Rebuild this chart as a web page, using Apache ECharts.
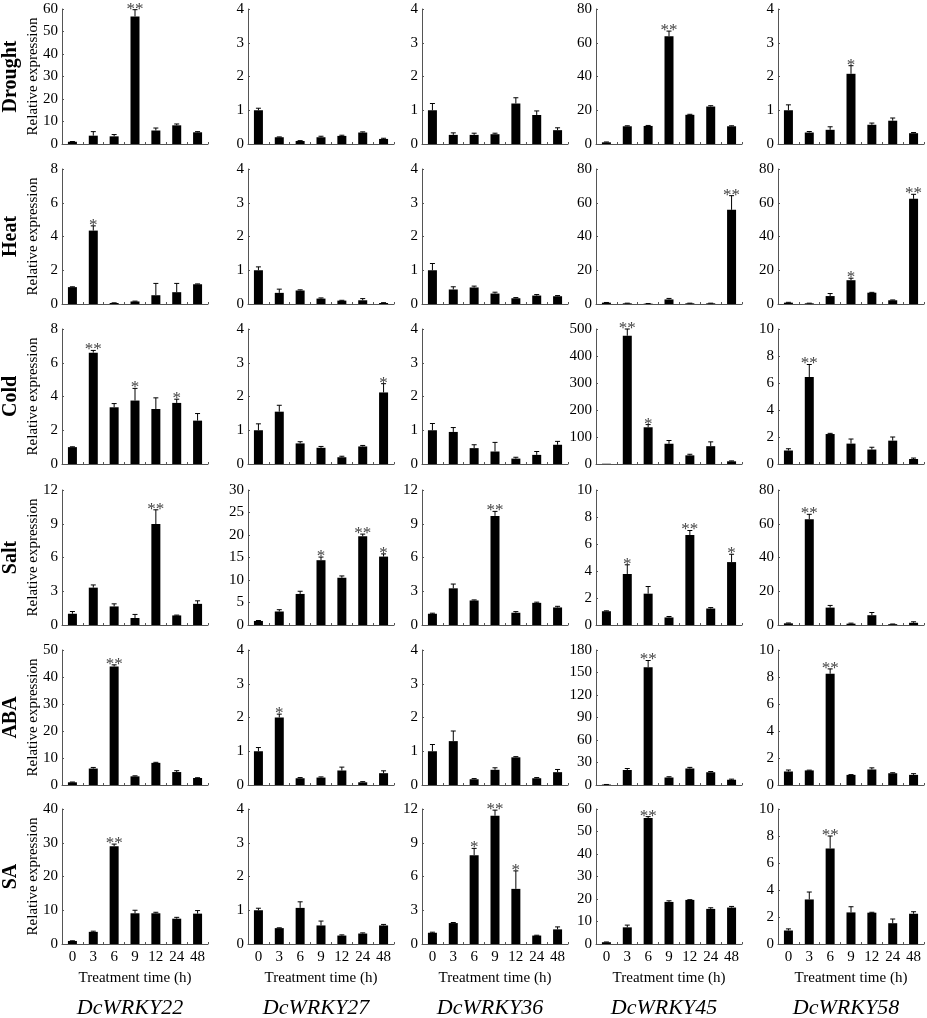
<!DOCTYPE html>
<html><head><meta charset="utf-8">
<script src="https://cdn.jsdelivr.net/npm/echarts@6/dist/echarts.min.js"></script>
<style>html,body{margin:0;padding:0;background:#fff}#c{width:927px;height:1018px}</style>
</head><body><div id="c"></div>
<script>
const times = ['0','3','6','9','12','24','48'];
const genes = ['DcWRKY22','DcWRKY27','DcWRKY36','DcWRKY45','DcWRKY58'];
const treatments = ['Drought','Heat','Cold','Salt','ABA','SA'];

// Drought
const droughtMax = [60, 4, 4, 80, 4];
const droughtStep = [10, 1, 1, 20, 1];
const droughtMean = [
  [1.0, 3.7, 3.4, 56.7, 6.0, 8.3, 5.2],
  [1.0, 0.2, 0.09, 0.2, 0.24, 0.34, 0.15],
  [1.0, 0.27, 0.27, 0.29, 1.2, 0.86, 0.41],
  [1.0, 10.5, 10.7, 63.9, 17.3, 22.2, 10.5],
  [1.0, 0.34, 0.42, 2.08, 0.57, 0.69, 0.32]];
const droughtErr = [
  [0.1, 1.8, 0.8, 3.0, 1.1, 0.6, 0.3],
  [0.06, 0.01, 0.01, 0.03, 0.02, 0.02, 0.02],
  [0.2, 0.06, 0.05, 0.03, 0.17, 0.12, 0.07],
  [0.2, 0.3, 0.3, 3.0, 0.3, 0.5, 0.3],
  [0.16, 0.03, 0.09, 0.24, 0.05, 0.08, 0.02]];
const droughtSig = [[0,0,0,2,0,0,0],[0,0,0,0,0,0,0],[0,0,0,0,0,0,0],[0,0,0,2,0,0,0],[0,0,0,1,0,0,0]];

// Heat
const heatMax = [8, 4, 4, 80, 80];
const heatStep = [2, 1, 1, 20, 20];
const heatMean = [
  [1.0, 4.35, 0.06, 0.15, 0.52, 0.7, 1.17],
  [1.0, 0.33, 0.4, 0.16, 0.1, 0.11, 0.03],
  [1.0, 0.43, 0.49, 0.31, 0.17, 0.25, 0.23],
  [0.8, 0.4, 0.2, 2.7, 0.4, 0.4, 55.8],
  [0.8, 0.4, 4.7, 14.1, 6.7, 2.2, 62.3]];
const heatErr = [
  [0.02, 0.28, 0.01, 0.02, 0.7, 0.52, 0.02],
  [0.1, 0.11, 0.02, 0.02, 0.01, 0.05, 0.01],
  [0.2, 0.08, 0.04, 0.04, 0.02, 0.03, 0.02],
  [0.1, 0.1, 0.1, 0.6, 0.1, 0.1, 8.4],
  [0.2, 0.1, 1.5, 1.2, 0.2, 0.2, 2.7]];
const heatSig = [[0,1,0,0,0,0,0],[0,0,0,0,0,0,0],[0,0,0,0,0,0,0],[0,0,0,0,0,0,2],[0,0,0,1,0,0,2]];

// Cold
const coldMax = [8, 4, 4, 500, 10];
const coldStep = [2, 1, 1, 100, 2];
const coldMean = [
  [1.0, 6.6, 3.36, 3.76, 3.26, 3.62, 2.57],
  [1.0, 1.55, 0.61, 0.48, 0.2, 0.52, 2.12],
  [1.0, 0.95, 0.47, 0.37, 0.16, 0.27, 0.57],
  [1.0, 475, 136, 75, 32, 66, 10],
  [1.0, 6.44, 2.22, 1.51, 1.07, 1.73, 0.37]];
const coldErr = [
  [0.02, 0.13, 0.22, 0.72, 0.66, 0.22, 0.42],
  [0.19, 0.19, 0.05, 0.04, 0.03, 0.03, 0.26],
  [0.2, 0.13, 0.1, 0.27, 0.04, 0.1, 0.1],
  [0, 25, 10, 12, 4, 16, 1.5],
  [0.13, 0.93, 0.05, 0.34, 0.17, 0.27, 0.07]];
const coldSig = [[0,2,0,1,0,1,0],[0,0,0,0,0,0,1],[0,0,0,0,0,0,0],[0,2,1,0,0,0,0],[0,2,0,0,0,0,0]];

// Salt
const saltMax = [12, 30, 12, 10, 80];
const saltStep = [3, 5, 3, 2, 20];
const saltMean = [
  [1.0, 3.32, 1.65, 0.62, 8.97, 0.85, 1.88],
  [0.9, 3.0, 6.9, 14.4, 10.5, 19.7, 15.2],
  [1.0, 3.26, 2.18, 9.7, 1.09, 1.97, 1.56],
  [1.02, 3.78, 2.32, 0.56, 6.66, 1.22, 4.66],
  [1.0, 62.7, 10.3, 0.8, 5.8, 0.5, 1.3]];
const saltErr = [
  [0.2, 0.24, 0.23, 0.32, 1.27, 0.03, 0.27],
  [0.1, 0.4, 0.6, 0.7, 0.4, 0.5, 0.6],
  [0.05, 0.38, 0.05, 0.4, 0.1, 0.06, 0.1],
  [0.03, 0.68, 0.53, 0.07, 0.34, 0.07, 0.58],
  [0.2, 2.9, 1.3, 0.3, 1.6, 0.1, 0.6]];
const saltSig = [[0,0,0,0,2,0,0],[0,0,0,1,0,2,1],[0,0,0,2,0,0,0],[0,1,0,0,2,0,1],[0,2,0,0,0,0,0]];

// ABA
const abaMax = [50, 4, 4, 180, 10];
const abaStep = [10, 1, 1, 30, 2];
const abaMean = [
  [1.0, 6.1, 43.9, 3.2, 8.2, 4.8, 2.6],
  [1.0, 2.0, 0.2, 0.22, 0.43, 0.08, 0.35],
  [1.0, 1.3, 0.17, 0.45, 0.82, 0.2, 0.38],
  [0.6, 20, 157, 10, 22, 17, 7],
  [1.0, 1.08, 8.24, 0.75, 1.15, 0.87, 0.75]];
const abaErr = [
  [0.1, 0.4, 0.6, 0.2, 0.2, 0.5, 0.1],
  [0.11, 0.1, 0.02, 0.02, 0.1, 0.02, 0.07],
  [0.2, 0.3, 0.02, 0.06, 0.02, 0.02, 0.08],
  [0.1, 2, 9, 1, 1.5, 1, 0.8],
  [0.11, 0.02, 0.36, 0.02, 0.12, 0.04, 0.09]];
const abaSig = [[0,0,2,0,0,0,0],[0,1,0,0,0,0,0],[0,0,0,0,0,0,0],[0,0,2,0,0,0,0],[0,0,2,0,0,0,0]];

// SA
const saMax = [40, 4, 12, 60, 10];
const saStep = [10, 1, 3, 10, 2];
const saMean = [
  [0.9, 3.6, 29.0, 9.1, 9.1, 7.5, 9.0],
  [1.0, 0.47, 1.07, 0.55, 0.25, 0.31, 0.55],
  [1.0, 1.86, 7.9, 11.4, 4.9, 0.75, 1.3],
  [0.8, 7.4, 56.0, 18.7, 19.6, 15.6, 16.2],
  [1.0, 3.3, 7.07, 2.34, 2.32, 1.54, 2.24]];
const saErr = [
  [0.05, 0.2, 0.6, 0.9, 0.3, 0.4, 0.9],
  [0.06, 0.01, 0.18, 0.13, 0.02, 0.02, 0.03],
  [0.05, 0.05, 0.6, 0.5, 1.6, 0.03, 0.22],
  [0.1, 1.0, 0.6, 0.5, 0.1, 0.5, 0.5],
  [0.12, 0.55, 0.93, 0.42, 0.03, 0.31, 0.15]];
const saSig = [[0,0,2,0,0,0,0],[0,0,0,0,0,0,0],[0,0,1,2,1,0,0],[0,0,2,0,0,0,0],[0,0,2,0,0,0,0]];

const rows = [
  {mean: droughtMean, err: droughtErr, sig: droughtSig, max: droughtMax, step: droughtStep},
  {mean: heatMean, err: heatErr, sig: heatSig, max: heatMax, step: heatStep},
  {mean: coldMean, err: coldErr, sig: coldSig, max: coldMax, step: coldStep},
  {mean: saltMean, err: saltErr, sig: saltSig, max: saltMax, step: saltStep},
  {mean: abaMean, err: abaErr, sig: abaSig, max: abaMax, step: abaStep},
  {mean: saMean, err: saErr, sig: saSig, max: saMax, step: saStep}
];

const FONT = '"Liberation Serif","Times New Roman",serif';
const colLeft = [62, 248, 422, 596, 778];
const colWidth = 146;
const rowTop = [9, 169, 329, 490, 650, 809];
const rowHeight = 135;
const axisColor = '#555';

const grid = [], xAxis = [], yAxis = [], series = [], graphic = [];

rows.forEach((row, r) => {
  genes.forEach((g, c) => {
    const idx = r * 5 + c;
    const isBottom = r === rows.length - 1;
    grid.push({left: colLeft[c], top: rowTop[r], width: colWidth, height: rowHeight});
    xAxis.push({
      type: 'category', gridIndex: idx, data: times,
      axisLine: {lineStyle: {color: axisColor, width: 1}},
      axisTick: {show: true, inside: true, length: 2, lineStyle: {color: axisColor}},
      axisLabel: {show: isBottom, color: '#000', fontFamily: FONT, fontSize: 15, margin: 6}
    });
    yAxis.push({
      type: 'value', gridIndex: idx, min: 0, max: row.max[c], interval: row.step[c],
      splitLine: {show: false},
      axisLine: {show: true, lineStyle: {color: axisColor, width: 1}},
      axisTick: {show: true, inside: true, length: 2, lineStyle: {color: axisColor}},
      axisLabel: {color: '#000', fontFamily: FONT, fontSize: 15, margin: 4}
    });
    series.push({
      type: 'bar', xAxisIndex: idx, yAxisIndex: idx, data: row.mean[c],
      barWidth: 9, itemStyle: {color: '#000'}, silent: true, animation: false
    });
    const sig = row.sig[c];
    series.push({
      type: 'custom', xAxisIndex: idx, yAxisIndex: idx, silent: true, animation: false, z: 3,
      data: row.mean[c].map((m, i) => [i, m, row.err[c][i]]),
      encode: {x: 0, y: 1},
      renderItem: function (params, api) {
        const x = api.value(0), m = api.value(1), e = api.value(2);
        const base = api.coord([x, m]);
        const top = api.coord([x, m + e]);
        const children = [];
        if (e > 0) {
          children.push({type: 'line', shape: {x1: base[0], y1: base[1], x2: top[0], y2: top[1]}, style: {stroke: '#000', lineWidth: 1}});
          children.push({type: 'line', shape: {x1: top[0] - 2.5, y1: top[1], x2: top[0] + 2.5, y2: top[1]}, style: {stroke: '#000', lineWidth: 1}});
        }
        const n = sig[params.dataIndex];
        if (n > 0) {
          children.push({type: 'text', x: top[0], y: top[1] + 8, style: {text: '*'.repeat(n), fill: '#444', font: '17px ' + FONT, textAlign: 'center', textVerticalAlign: 'bottom'}});
        }
        return {type: 'group', children: children};
      }
    });
  });
  const cy = rowTop[r] + rowHeight / 2;
  graphic.push({type: 'text', x: 11, y: cy, rotation: Math.PI / 2,
    style: {text: treatments[r], font: 'bold 20px ' + FONT, fill: '#000', textAlign: 'center', textVerticalAlign: 'middle'}});
  graphic.push({type: 'text', x: 33, y: cy, rotation: Math.PI / 2,
    style: {text: 'Relative expression', font: '15px ' + FONT, fill: '#000', textAlign: 'center', textVerticalAlign: 'middle'}});
});

genes.forEach((g, c) => {
  const cx = colLeft[c] + colWidth / 2;
  graphic.push({type: 'text', x: cx, y: 978,
    style: {text: 'Treatment time (h)', font: '15px ' + FONT, fill: '#000', textAlign: 'center', textVerticalAlign: 'middle'}});
  graphic.push({type: 'text', x: cx - 5, y: 1008,
    style: {text: g, font: 'italic 22px ' + FONT, fill: '#000', textAlign: 'center', textVerticalAlign: 'middle'}});
});

const chart = echarts.init(document.getElementById('c'), null, {renderer: 'canvas'});
chart.setOption({animation: false, backgroundColor: '#fff', grid, xAxis, yAxis, series, graphic});
</script></body></html>
